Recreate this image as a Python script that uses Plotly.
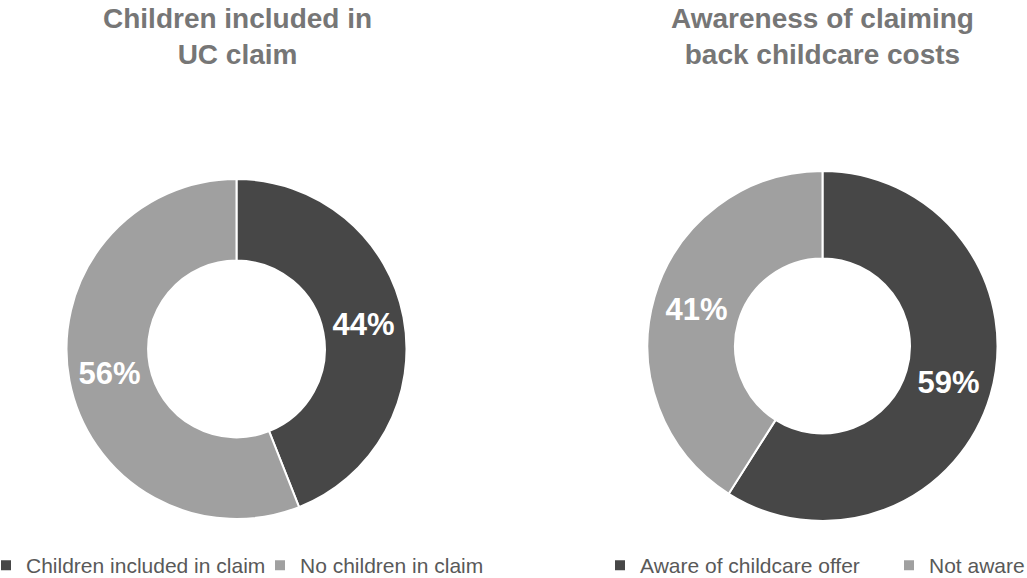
import plotly.graph_objects as go

# Data
left_labels = ["Children included in claim", "No children in claim"]
left_values = [44, 56]
right_labels = ["Aware of childcare offer", "Not aware"]
right_values = [59, 41]
titles = ["Children included in<br>UC claim", "Awareness of claiming<br>back childcare costs"]

DARK = "#474747"
LIGHT = "#A0A0A0"
W, H = 1027, 578

def dom_x(cx, r):
    return [(cx - r) / W, (cx + r) / W]

def dom_y(cy, r):
    return [(H - cy - r) / H, (H - cy + r) / H]

label_font = dict(color="white", size=31, family="Liberation Sans, Arial", weight="bold")

fig = go.Figure()
fig.add_trace(go.Pie(
    labels=left_labels, values=left_values, hole=0.52, sort=False,
    direction="clockwise", rotation=0,
    marker=dict(colors=[DARK, LIGHT], line=dict(color="white", width=2)),
    texttemplate="%{value}%", textposition="inside", insidetextorientation="horizontal",
    textfont=label_font,
    domain=dict(x=dom_x(236.5, 170), y=dom_y(349, 170)),
    legend="legend", hoverinfo="label+percent",
))
fig.add_trace(go.Pie(
    labels=right_labels, values=right_values, hole=0.5, sort=False,
    direction="clockwise", rotation=0,
    marker=dict(colors=[DARK, LIGHT], line=dict(color="white", width=2)),
    texttemplate="%{value}%", textposition="inside", insidetextorientation="horizontal",
    textfont=label_font,
    domain=dict(x=dom_x(822.5, 175), y=dom_y(346, 175)),
    legend="legend2", hoverinfo="label+percent",
))

for cx, t in zip([237.5, 822.5], titles):
    fig.add_annotation(
        text=f"<b>{t}</b>", x=cx / W, y=1 - 1 / H, xref="paper", yref="paper",
        xanchor="center", yanchor="top", showarrow=False,
        font=dict(size=28, color="#767676", family="Liberation Sans, Arial"),
    )

legend_font = dict(size=21, color="#595959", family="Liberation Sans, Arial")
fig.update_layout(
    width=W, height=H,
    margin=dict(l=0, r=0, t=0, b=0, autoexpand=False),
    paper_bgcolor="white", plot_bgcolor="white",
    legend=dict(orientation="h", x=-14 / W, y=-8 / H, xanchor="left", yanchor="bottom",
                font=legend_font, entrywidth=229, entrywidthmode="pixels",
                bgcolor="rgba(0,0,0,0)"),
    legend2=dict(orientation="h", x=600 / W, y=-8 / H, xanchor="left", yanchor="bottom",
                 font=legend_font, entrywidth=244, entrywidthmode="pixels",
                 bgcolor="rgba(0,0,0,0)"),
)

fig.write_html(
    "out.html",
    config={"displayModeBar": False},
    post_script="document.body.style.margin='0';document.body.style.overflow='hidden';",
)
